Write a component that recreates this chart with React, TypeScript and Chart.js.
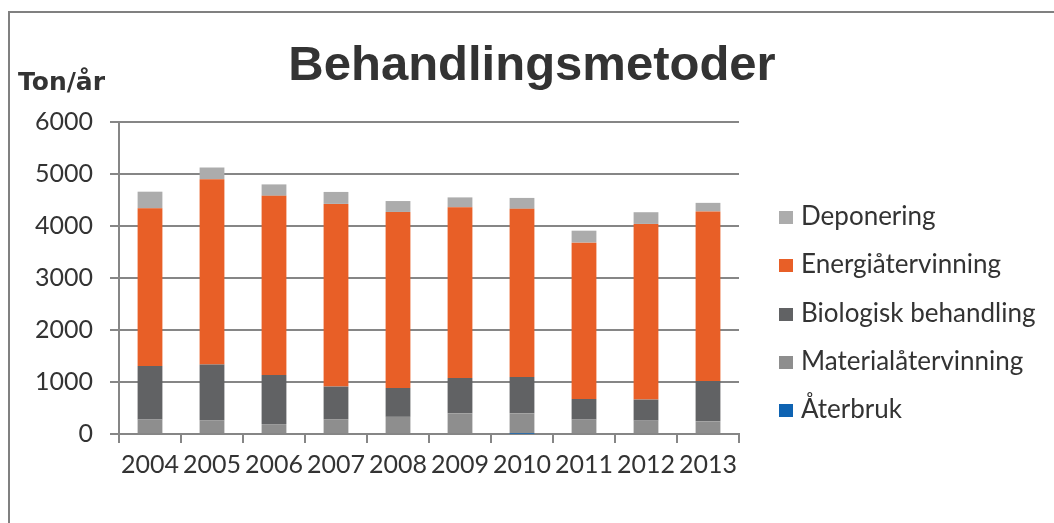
import React, { useEffect, useRef } from "react";
import { Chart, registerables } from "chart.js";

Chart.register(...registerables);

const titleText = "Behandlingsmetoder";
const unitLabel = "Ton/år";
const years = ["2004", "2005", "2006", "2007", "2008", "2009", "2010", "2011", "2012", "2013"];
const aterbruk = [0, 0, 0, 0, 0, 0, 5, 0, 0, 0];
const materialatervinning = [280, 265, 190, 285, 330, 398, 393, 277, 257, 244];
const biologisk = [1030, 1070, 945, 627, 555, 679, 699, 396, 405, 776];
const energiatervinning = [3030, 3565, 3445, 3513, 3385, 3283, 3233, 3007, 3378, 3260];
const deponering = [320, 225, 220, 230, 210, 190, 210, 230, 225, 165];
const yMax = 6000;
const yStep = 1000;

const GRID = "#868686";
const TEXT = "#333333";
const TICK_FONT = "Lato";

const overlayPlugin = {
  id: "overlay",
  afterDraw(chart: any) {
    const ctx = chart.ctx;
    ctx.save();
    ctx.fillStyle = TEXT;
    ctx.textBaseline = "alphabetic";
    ctx.textAlign = "center";
    ctx.font = 'bold 49px "Liberation Sans"';
    ctx.fillText(titleText, chart.width / 2, 67);
    ctx.textAlign = "left";
    ctx.font = 'bold 25px "DejaVu Sans"';
    ctx.fillText(unitLabel, 8, 77);
    const items = chart.data.datasets.slice().reverse();
    items.forEach((d: any, i: number) => {
      const base = 212 + i * 48.25;
      ctx.fillStyle = d.backgroundColor;
      ctx.fillRect(769, Math.round(base - 14), 14, 13);
      ctx.fillStyle = TEXT;
      ctx.font = '26px "Lato"';
      ctx.fillText(d.label, 791, base);
    });
    ctx.restore();
  },
};

export default function App() {
  const ref = useRef<HTMLCanvasElement>(null);
  useEffect(() => {
    let chart: Chart | null = null;
    let cancelled = false;
    const fonts = [
      '25px "Lato"',
      '26px "Lato"',
      'bold 49px "Liberation Sans"',
      'bold 25px "DejaVu Sans"',
    ];
    Promise.all(fonts.map((f) => (document as any).fonts.load(f)))
      .catch(() => null)
      .then(() => {
        if (cancelled || !ref.current) return;
        chart = new Chart(ref.current, {
          type: "bar",
          data: {
            labels: years,
            datasets: [
              { label: "Återbruk", data: aterbruk, backgroundColor: "#0e63b2" },
              { label: "Materialåtervinning", data: materialatervinning, backgroundColor: "#8e8e8e" },
              { label: "Biologisk behandling", data: biologisk, backgroundColor: "#616264" },
              { label: "Energiåtervinning", data: energiatervinning, backgroundColor: "#e85f27" },
              { label: "Deponering", data: deponering, backgroundColor: "#acacac" },
            ],
          },
          options: {
            responsive: false,
            animation: false,
            events: [],
            layout: { padding: { left: 0, top: 109, right: 315, bottom: 29 } },
            datasets: { bar: { barPercentage: 0.4, categoryPercentage: 1 } },
            plugins: {
              legend: { display: false },
              title: { display: false },
              tooltip: { enabled: false },
            },
            scales: {
              x: {
                stacked: true,
                afterFit: (s: any) => { s.height = 60; },
                grid: { display: true, drawOnChartArea: false, drawTicks: true, tickLength: 9, color: GRID, lineWidth: 2 },
                border: { display: true, color: GRID, width: 2 },
                ticks: { color: TEXT, font: { family: TICK_FONT, size: 25 }, padding: 7, maxRotation: 0, autoSkip: false },
              },
              y: {
                stacked: true,
                min: 0,
                max: yMax,
                afterFit: (s: any) => { s.width = 109; },
                grid: { color: GRID, lineWidth: 2, tickLength: 9, drawTicks: true },
                border: { display: true, color: GRID, width: 2 },
                ticks: {
                  stepSize: yStep,
                  color: TEXT,
                  font: { family: TICK_FONT, size: 25 },
                  padding: 17,
                  callback: (v: any) => String(v),
                },
              },
            },
          },
          plugins: [overlayPlugin],
        });
      });
    return () => {
      cancelled = true;
      if (chart) chart.destroy();
    };
  }, []);

  return (
    <div
      style={{
        position: "fixed",
        left: 8,
        top: 11,
        width: 1100,
        height: 600,
        borderTop: "2px solid #808080",
        borderLeft: "2px solid #808080",
        background: "#fff",
      }}
    >
      <canvas ref={ref} width={1044} height={510} style={{ display: "block" }} />
    </div>
  );
}
